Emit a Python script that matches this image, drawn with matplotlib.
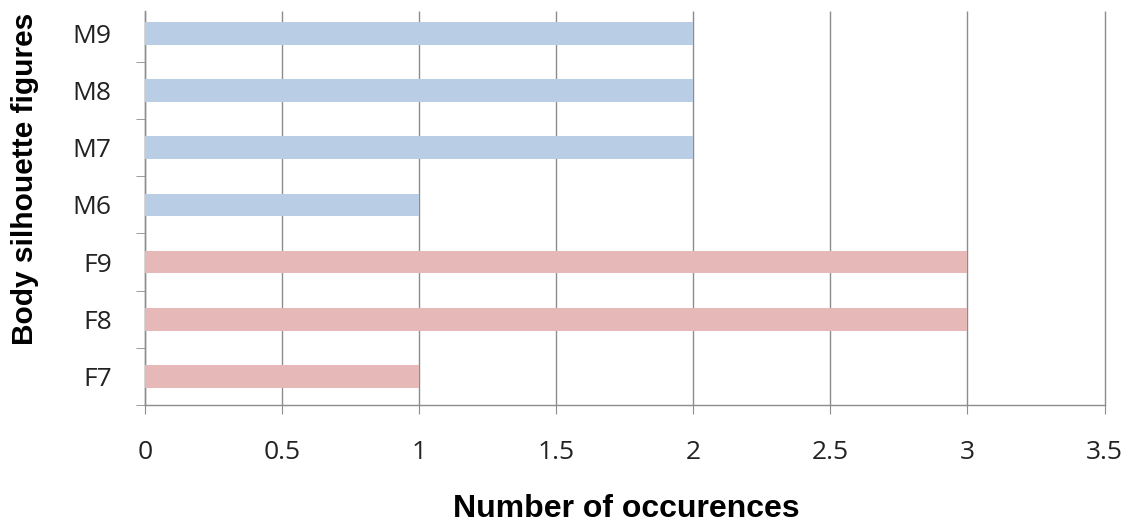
import matplotlib
matplotlib.use("Agg")
import matplotlib.pyplot as plt

categories = ["F7", "F8", "F9", "M6", "M7", "M8", "M9"]
occurrences = [1, 3, 3, 1, 2, 2, 2]
groups = ["F", "F", "F", "M", "M", "M", "M"]
x_ticks = [0, 0.5, 1, 1.5, 2, 2.5, 3, 3.5]
x_tick_labels = ["0", "0.5", "1", "1.5", "2", "2.5", "3", "3.5"]

colors = {"F": "#e6b9b8", "M": "#b9cde5"}
grid_color = "#8c8c8c"

fig = plt.figure(figsize=(11.35, 5.25), dpi=100)
ax = fig.add_axes([0.12775, 0.2291, 0.8454, 0.761])

pos = list(range(len(categories)))
ax.barh(pos, occurrences, height=0.4,
        color=[colors[g] for g in groups], zorder=3)

n = len(categories)
ax.set_xlim(0, 3.5)
ax.set_ylim(-0.5, n - 0.5)
ax.set_xticks(x_ticks)
ax.set_xticklabels(x_tick_labels)
ax.set_yticks(pos)
ax.set_yticklabels(categories)
ax.set_yticks([p - 0.5 for p in pos], minor=True)

# vertical gridlines, stopping a little below the top of the plot area
grid_top = n - 0.6
ax.vlines(x_ticks, -0.5, grid_top, color=grid_color, linewidth=1.0,
          zorder=0, clip_on=False)

for s in ["top", "right"]:
    ax.spines[s].set_visible(False)
for s in ["left", "bottom"]:
    ax.spines[s].set_color(grid_color)
    ax.spines[s].set_linewidth(1.0)
ax.spines["left"].set_bounds(-0.5, grid_top)

ax.tick_params(axis="x", which="major", direction="out", length=6.5,
               color=grid_color, pad=19, labelsize=19, labelcolor="#222222")
ax.tick_params(axis="y", which="major", length=0, pad=24,
               labelsize=19, labelcolor="#222222")
ax.tick_params(axis="y", which="minor", direction="out", length=6.5,
               color=grid_color)
for lab in ax.get_xticklabels() + ax.get_yticklabels():
    lab.set_fontfamily("Open Sans")

fig.text(0.022, 0.659, "Body silhouette figures", rotation=90,
         ha="center", va="center", fontsize=21.5, fontweight="bold",
         family="Liberation Sans", color="black")
fig.text(0.5515, 0.016, "Number of occurences", ha="center", va="baseline",
         fontsize=23, fontweight="bold", family="Liberation Sans",
         color="black")

fig.savefig("out.png", dpi=100)
